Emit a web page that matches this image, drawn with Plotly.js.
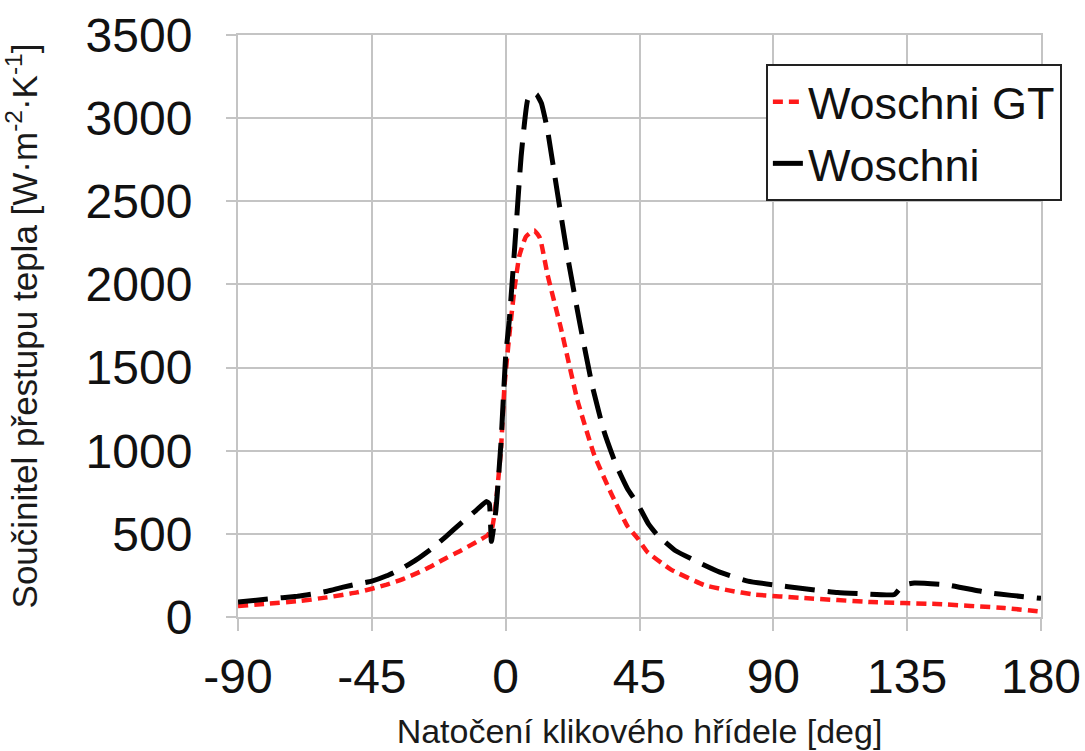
<!DOCTYPE html>
<html>
<head>
<meta charset="utf-8">
<script src="https://cdn.plot.ly/plotly-3.0.1.min.js"></script>
<style>html,body{margin:0;padding:0;background:#fff;}#chart{width:1085px;height:751px;}</style>
</head>
<body>
<div id="chart"></div>
<script>
// Crank angle [deg] and heat transfer coefficient [W·m-2·K-1]
const seriesNames = ["Woschni GT", "Woschni"];

const angleGT = [-90, -80, -70, -60, -50, -45, -40, -35, -30, -25, -20, -15, -10, -6, -4.5, -3.3, -1.6, -0.4, 1.2, 2.9, 4.6, 6.8, 9.6, 11.5, 14.1, 18.6, 24.2, 29.8, 35.4, 41, 44.5, 47.7, 55.6, 66.8, 75, 83.6, 100.4, 122.8, 145, 167.7, 180];
const valueGT = [66, 80, 95, 118, 148, 170, 195, 225, 262, 305, 355, 400, 450, 493, 540, 684, 1004, 1389, 1690, 1966, 2172, 2287, 2325, 2280, 2057, 1735, 1299, 974, 746, 545, 470, 390, 285, 192, 160, 135, 114, 90, 78, 54, 32];

const angleW = [-90, -80, -70, -65, -60, -55, -50, -45, -40, -35, -30, -25, -20, -15, -10, -6.5, -5.5, -4.8, -3.3, -1.6, 0, 1.2, 3.1, 5.2, 7.4, 9.2, 10.5, 12, 14, 17.5, 21, 25, 29, 33, 37, 41, 44.5, 48, 51, 57, 64.6, 72, 81.4, 95, 111.6, 120, 130.7, 133.5, 137.4, 148.6, 162, 170, 180];
const valueW = [90, 108, 125, 138, 155, 178, 198, 216, 248, 290, 345, 410, 485, 565, 640, 695, 680, 455, 640, 1040, 1570, 1780, 2240, 2770, 3110, 3155, 3140, 3090, 2935, 2540, 2150, 1760, 1400, 1120, 920, 770, 676, 560, 493, 400, 331, 270, 216, 182, 147, 140, 135, 190, 204, 192, 147, 130, 112];

const xTicks = [-90, -45, 0, 45, 90, 135, 180];
const xTickText = ["-90", "-45", "0", "45", "90", "135", "180"];
const yTicks = [0, 500, 1000, 1500, 2000, 2500, 3000, 3500];
const yTickText = ["0", "500", "1000", "1500", "2000", "2500", "3000", "3500"];

const xTitle = "Natočení klikového hřídele [deg]";
const yTitle = "Součinitel přestupu tepla [W·m<sup>-2</sup>·K<sup>-1</sup>]";

const FONT = "Liberation Sans, Arial, sans-serif";
const GRID = "#c4c4c4";

const traces = [
  {x: angleGT, y: valueGT, name: seriesNames[0], type: "scatter", mode: "lines",
   line: {color: "#ff1a1a", width: 4.5, dash: "10px,6px", shape: "spline", smoothing: 0.4}},
  {x: angleW, y: valueW, name: seriesNames[1], type: "scatter", mode: "lines",
   line: {color: "#000000", width: 5, dash: "30px,13px", shape: "spline", smoothing: 0.4}}
];

const layout = {
  width: 1085, height: 751,
  margin: {l: 238, r: 44, t: 35, b: 134},
  paper_bgcolor: "#ffffff", plot_bgcolor: "#ffffff",
  showlegend: true,
  font: {family: FONT, color: "#111111"},
  xaxis: {
    range: [-90, 180], tickmode: "array", tickvals: xTicks, ticktext: xTickText,
    showgrid: true, gridcolor: GRID, gridwidth: 2, zeroline: false,
    showline: true, linecolor: GRID, linewidth: 2, mirror: true,
    ticks: "outside", ticklen: 12, tickwidth: 2, tickcolor: GRID,
    ticklabelstandoff: 4,
    tickfont: {family: FONT, size: 48, color: "#111111"},
    title: {text: xTitle, font: {family: FONT, size: 34, color: "#1a1a1a"}, standoff: 18},
    automargin: false
  },
  yaxis: {
    range: [0, 3500], tickmode: "array", tickvals: yTicks, ticktext: yTickText,
    showgrid: true, gridcolor: GRID, gridwidth: 2, zeroline: false,
    showline: true, linecolor: GRID, linewidth: 2, mirror: true,
    ticks: "outside", ticklen: 10, tickwidth: 2, tickcolor: GRID,
    ticklabelstandoff: 24,
    tickfont: {family: FONT, size: 48, color: "#111111"},
    title: {text: yTitle, font: {family: FONT, size: 35, color: "#1a1a1a"}, standoff: 46},
    automargin: false
  },
  legend: {
    x: 1.026, y: 0.95, xanchor: "right", yanchor: "top",
    bgcolor: "#ffffff", bordercolor: "#222222", borderwidth: 2,
    font: {family: FONT, size: 45, color: "#111111"},
    tracegroupgap: 0
  }
};

Plotly.newPlot("chart", traces, layout, {displayModeBar: false, staticPlot: true});
</script>
</body>
</html>
